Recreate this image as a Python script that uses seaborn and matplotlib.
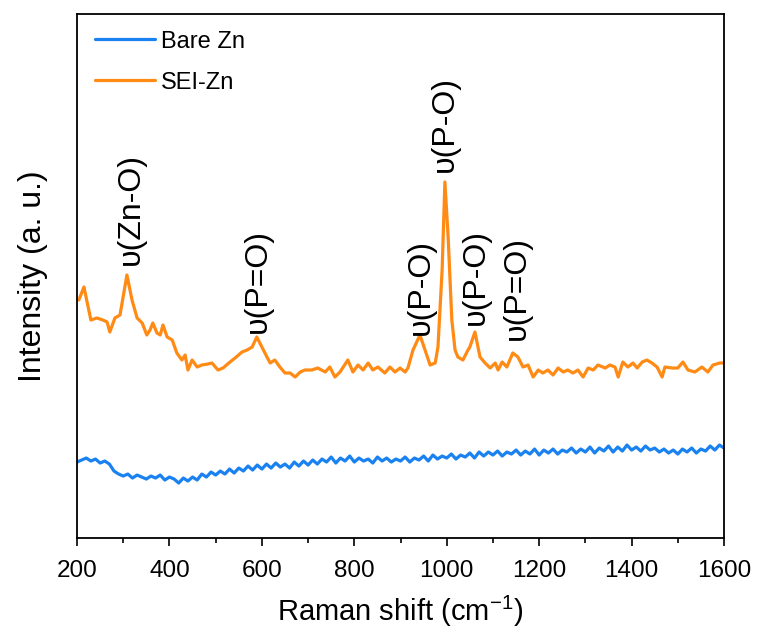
import pandas as pd
import seaborn as sns
import matplotlib.pyplot as plt

# values (Raman shift in cm-1, intensity in arbitrary units)
sei_shift = [204, 215, 230, 243, 256, 265, 271, 282, 293, 308, 319, 330, 341, 351, 358, 364,
             373, 380, 386, 395, 406, 416, 427, 434, 440, 449, 460, 470, 483, 492, 505, 516,
             531, 542, 557, 568, 579, 589, 600, 611, 618, 628, 639, 650, 661, 672, 683, 693,
             708, 721, 737, 747, 758, 769, 786, 797, 808, 819, 830, 840, 851, 866, 877, 888,
             899, 910, 916, 927, 942, 953, 964, 975, 981, 990, 996, 1003, 1011, 1018, 1024,
             1035, 1046, 1050, 1061, 1072, 1083, 1094, 1105, 1111, 1120, 1130, 1143, 1154,
             1165, 1176, 1187, 1198, 1208, 1219, 1230, 1241, 1252, 1262, 1273, 1284, 1295,
             1306, 1317, 1327, 1343, 1353, 1364, 1371, 1381, 1392, 1403, 1412, 1423, 1433,
             1444, 1455, 1466, 1472, 1488, 1500, 1511, 1522, 1537, 1552, 1565, 1576, 1591, 1598]
sei_int = [240, 253, 220, 222, 220, 218, 208, 222, 225, 265, 240, 222, 217, 205, 210, 217,
           207, 205, 215, 203, 200, 187, 180, 185, 170, 180, 173, 175, 176, 177, 170, 172,
           178, 182, 188, 190, 193, 203, 193, 183, 177, 180, 173, 167, 167, 163, 168, 170,
           170, 172, 168, 173, 163, 168, 180, 168, 175, 170, 177, 170, 173, 167, 173, 168,
           172, 168, 172, 190, 205, 190, 175, 177, 193, 270, 358, 303, 220, 190, 183,
           180, 190, 193, 208, 183, 177, 172, 177, 170, 178, 173, 187, 183,
           173, 175, 163, 170, 167, 170, 165, 172, 168, 170, 167, 170, 163,
           172, 170, 175, 172, 175, 173, 163, 178, 173, 177, 172, 178, 180,
           177, 173, 163, 173, 172, 172, 178, 170, 168, 173, 168, 175, 177, 177]

bare_shift = list(range(200, 1601, 10))
bare_int = [78, 80, 82, 79, 81, 77, 79, 76, 69, 66, 64, 66, 62, 65, 63, 61, 64, 62, 65, 60,
            63, 61, 57, 62, 59, 63, 60, 66, 63, 68, 65, 69, 66, 71, 67, 72, 69, 74, 70, 75,
            71, 76, 72, 77, 73, 76, 72, 78, 74, 79, 75, 80, 76, 81, 78, 83, 77, 82, 79, 84,
            78, 82, 79, 81, 77, 83, 79, 82, 78, 81, 79, 83, 78, 82, 80, 84, 79, 85, 81, 84,
            82, 86, 81, 85, 83, 87, 82, 88, 84, 88, 85, 89, 84, 88, 86, 90, 85, 89, 86, 91,
            85, 90, 87, 91, 86, 90, 88, 92, 87, 91, 88, 93, 87, 92, 89, 94, 88, 93, 89, 95,
            90, 93, 89, 94, 90, 92, 88, 91, 87, 90, 86, 91, 88, 92, 87, 91, 89, 94, 90, 95, 92]

peak_labels = ['υ(Zn-O)', 'υ(P=O)', 'υ(P-O)', 'υ(P-O)', 'υ(P-O)', 'υ(P=O)']
peak_x = [317, 592, 944, 996, 1063, 1152]
peak_y = [275, 207, 205, 368, 215, 200]

df = pd.concat([
    pd.DataFrame({'shift': bare_shift, 'intensity': bare_int, 'Sample': 'Bare Zn'}),
    pd.DataFrame({'shift': sei_shift, 'intensity': sei_int, 'Sample': 'SEI-Zn'}),
])

sns.set_style('white')
plt.rcParams['font.family'] = ['Liberation Sans', 'DejaVu Sans']
plt.rcParams['mathtext.fontset'] = 'custom'
plt.rcParams['mathtext.rm'] = 'Liberation Sans'
plt.rcParams['text.color'] = 'black'
plt.rcParams['axes.labelcolor'] = 'black'
plt.rcParams['xtick.color'] = 'black'

fig = plt.figure(figsize=(7.58, 6.33), dpi=100)
ax = fig.add_axes([0.1016, 0.150, 0.8536, 0.828])

sns.lineplot(data=df, x='shift', y='intensity', hue='Sample', sort=False, estimator=None,
             palette={'Bare Zn': '#1a82f0', 'SEI-Zn': '#ff8a14'}, linewidth=2.3, ax=ax)

for lab, x, y in zip(peak_labels, peak_x, peak_y):
    ax.text(x, y, lab, rotation=90, ha='center', va='bottom', fontsize=23)

ax.set_xlim(200, 1600)
ax.set_ylim(2, 526)
ax.set_xticks(range(200, 1601, 200))
ax.set_xticks(range(300, 1600, 200), minor=True)
ax.set_yticks([])
ax.tick_params(axis='x', which='major', direction='out', length=6, width=1.2,
               bottom=True, labelsize=17.5, pad=10, colors='black')
ax.tick_params(axis='x', which='minor', direction='out', length=3.5, width=1.2, bottom=True)
for s in ax.spines.values():
    s.set_linewidth(1.3)
    s.set_color('black')

ax.set_xlabel('Raman shift (cm$^{-1}$)', fontsize=21, labelpad=8)
ax.set_ylabel('Intensity (a. u.)', fontsize=23, labelpad=21)

leg = ax.legend(title=None, loc='upper left', frameon=False, fontsize=17,
                handlelength=2.55, handletextpad=0.25, labelspacing=0.8,
                borderpad=0, borderaxespad=0, bbox_to_anchor=(0.028, 0.968))
for t in leg.get_texts():
    t.set_color('black')

plt.savefig('out.png', dpi=100)
plt.close()
